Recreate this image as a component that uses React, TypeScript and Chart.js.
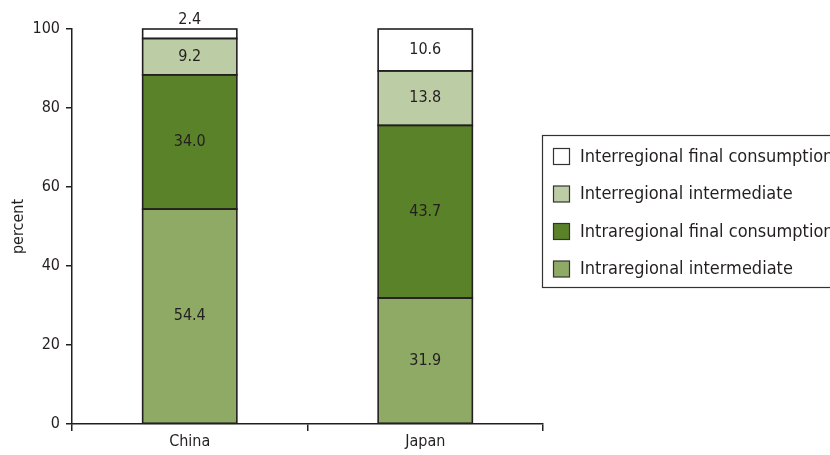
import React, { useEffect, useRef } from "react";
import { Chart, registerables } from "chart.js";

Chart.register(...registerables);

const categories = ["China", "Japan"];
const seriesNames = [
  "Intraregional intermediate",
  "Intraregional final consumption",
  "Interregional intermediate",
  "Interregional final consumption",
];
const intraIntermediate = [54.4, 31.9];
const intraFinal = [34.0, 43.7];
const interIntermediate = [9.2, 13.8];
const interFinal = [2.4, 10.6];
const seriesColors = ["#8eaa65", "#5a8228", "#bccca4", "#ffffff"];
const yTicks = [0, 20, 40, 60, 80, 100];

const FONT = "'DejaVu Sans Condensed', 'Liberation Sans Narrow', sans-serif";
const INK = "#231f20";

// Outlines each stacked segment with an even stroke, then writes its value.
const segmentPlugin = {
  id: "segmentOutlineLabels",
  afterDatasetsDraw(chart: any) {
    const ctx = chart.ctx;
    ctx.save();
    ctx.strokeStyle = INK;
    ctx.lineWidth = 1.6;
    chart.data.datasets.forEach((_ds: any, di: number) => {
      const meta = chart.getDatasetMeta(di);
      meta.data.forEach((bar: any) => {
        const top = Math.min(bar.y, bar.base);
        const h = Math.abs(bar.base - bar.y);
        ctx.strokeRect(bar.x - bar.width / 2, top, bar.width, h);
      });
    });
    ctx.font = `16px ${FONT}`;
    ctx.fillStyle = INK;
    ctx.textAlign = "center";
    chart.data.datasets.forEach((ds: any, di: number) => {
      const meta = chart.getDatasetMeta(di);
      meta.data.forEach((bar: any, i: number) => {
        const v = ds.data[i];
        const top = Math.min(bar.y, bar.base);
        const h = Math.abs(bar.base - bar.y);
        if (h < 16) {
          ctx.textBaseline = "bottom";
          ctx.fillText(v.toFixed(1), bar.x, top - 1);
        } else {
          ctx.textBaseline = "middle";
          ctx.fillText(v.toFixed(1), bar.x, top + h / 2);
        }
      });
    });
    ctx.restore();
  },
};

const legendPlugin = {
  id: "boxLegend",
  afterDraw(chart: any) {
    const ctx = chart.ctx;
    const left = chart.chartArea.right - 0.5;
    const top = 135.5;
    ctx.save();
    ctx.strokeStyle = "#333";
    ctx.lineWidth = 1.2;
    ctx.strokeRect(left, top, chart.width - left + 10, 152);
    ctx.font = `18px ${FONT}`;
    ctx.textBaseline = "middle";
    ctx.textAlign = "left";
    const order = [3, 2, 1, 0];
    order.forEach((di, row) => {
      const y = 148 + row * 37.5;
      ctx.fillStyle = seriesColors[di];
      ctx.fillRect(553.5, y + 0.5, 16, 16);
      ctx.strokeStyle = "#333";
      ctx.lineWidth = 1.2;
      ctx.strokeRect(553.5, y + 0.5, 16, 16);
      ctx.fillStyle = INK;
      ctx.fillText(seriesNames[di], 580, y + 9);
    });
    ctx.restore();
  },
};

export default function App() {
  const ref = useRef<HTMLCanvasElement>(null);

  useEffect(() => {
    if (!ref.current) return;
    const values = [intraIntermediate, intraFinal, interIntermediate, interFinal];
    const chart = new Chart(ref.current, {
      type: "bar",
      data: {
        labels: categories,
        datasets: values.map((data, i) => ({
          label: seriesNames[i],
          data,
          backgroundColor: seriesColors[i],
          borderWidth: 0,
          categoryPercentage: 1,
          barPercentage: 0.4,
        })),
      },
      options: {
        responsive: false,
        animation: false,
        layout: { padding: { top: 29, right: 287, bottom: 0, left: 0 } },
        plugins: {
          legend: { display: false },
          tooltip: { enabled: false },
        },
        scales: {
          x: {
            stacked: true,
            offset: true,
            grid: {
              offset: true,
              drawOnChartArea: false,
              drawTicks: true,
              tickLength: 7,
              color: INK,
              lineWidth: 1.5,
            },
            border: { display: true, color: INK, width: 1.5 },
            ticks: { color: INK, font: { family: FONT, size: 16 }, padding: 1 },
            afterFit: (s: any) => {
              s.height = 31;
            },
          },
          y: {
            stacked: true,
            min: 0,
            max: 100,
            afterBuildTicks: (s: any) => {
              s.ticks = yTicks.map((v) => ({ value: v }));
            },
            grid: {
              drawOnChartArea: false,
              drawTicks: true,
              tickLength: 6,
              color: INK,
              lineWidth: 1.5,
            },
            border: { display: true, color: INK, width: 1.5 },
            ticks: { color: INK, font: { family: FONT, size: 16 }, padding: 6 },
            title: {
              display: true,
              text: "percent",
              color: INK,
              font: { family: FONT, size: 16 },
              padding: { top: 9, bottom: 0 },
            },
            afterFit: (s: any) => {
              s.width = 72;
            },
          },
        },
      },
      plugins: [segmentPlugin, legendPlugin],
    });
    return () => chart.destroy();
  }, []);

  return (
    <div style={{ position: "absolute", left: 0, top: 0, width: 830, height: 455, background: "#fff" }}>
      <canvas ref={ref} width={830} height={455} />
    </div>
  );
}
